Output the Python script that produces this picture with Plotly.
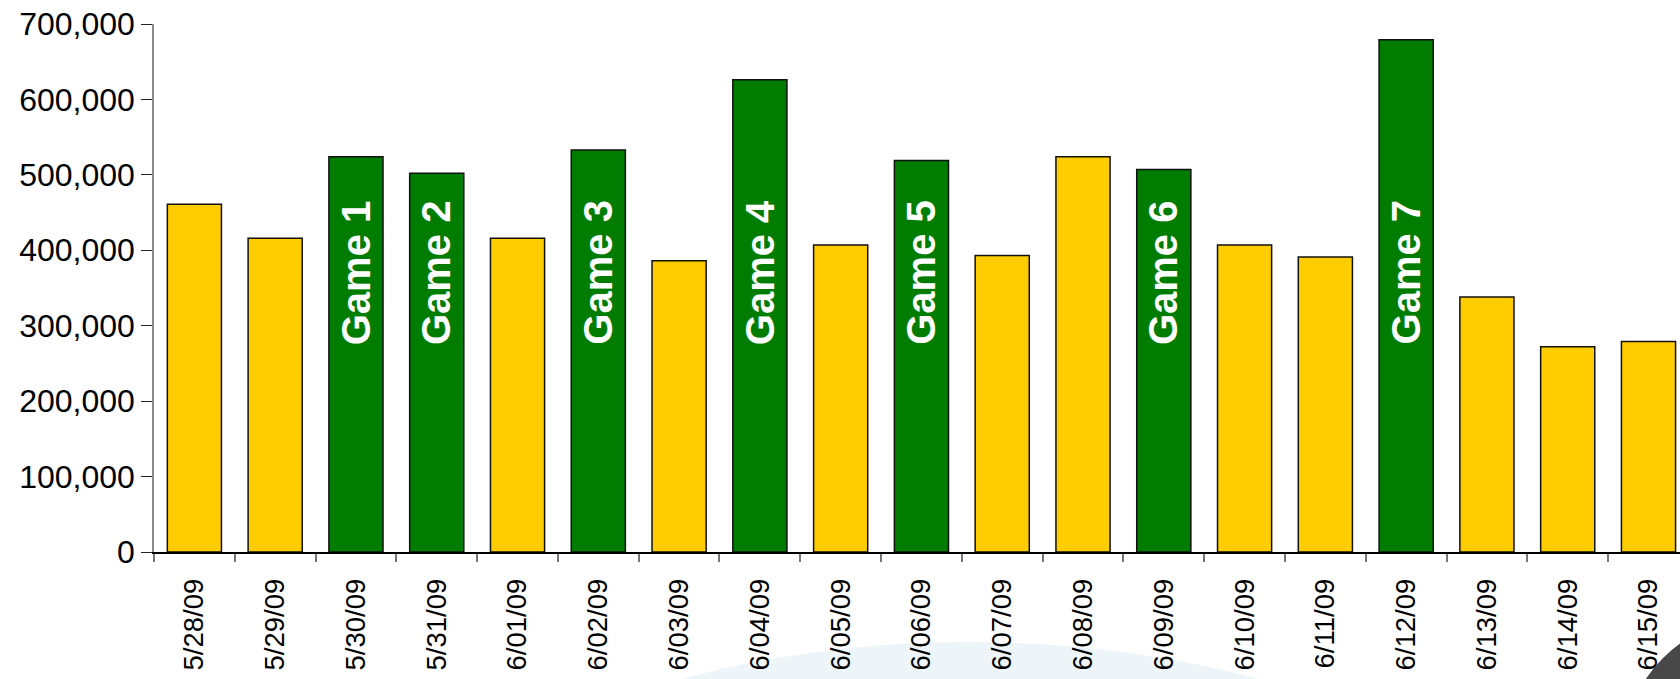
import plotly.graph_objects as go

dates = ["5/28/09", "5/29/09", "5/30/09", "5/31/09", "6/01/09", "6/02/09", "6/03/09",
         "6/04/09", "6/05/09", "6/06/09", "6/07/09", "6/08/09", "6/09/09", "6/10/09",
         "6/11/09", "6/12/09", "6/13/09", "6/14/09", "6/15/09"]
values = [461000, 416000, 524000, 502000, 416000, 533000, 386000,
          626000, 407000, 519000, 393000, 524000, 507000, 407000,
          391000, 679000, 338000, 272000, 279000]
game_dates = ["5/30/09", "5/31/09", "6/02/09", "6/04/09", "6/06/09", "6/09/09", "6/12/09"]
game_labels = ["Game 1", "Game 2", "Game 3", "Game 4", "Game 5", "Game 6", "Game 7"]
y_ticks = [0, 100000, 200000, 300000, 400000, 500000, 600000, 700000]

YELLOW = "#FFCC00"
GREEN = "#007D00"
colors = [GREEN if d in game_dates else YELLOW for d in dates]

W, H = 1680, 679
L, T, B = 154, 24, 127

fig = go.Figure()
fig.add_trace(go.Bar(
    x=dates, y=values,
    marker=dict(color=colors, line=dict(color="#111111", width=1.5)),
    hoverinfo="x+y",
))

for d, lab in zip(game_dates, game_labels):
    fig.add_annotation(
        x=d, y=272000, xref="x", yref="y",
        text="<b>" + lab + "</b>", textangle=-90,
        showarrow=False, xanchor="center", yanchor="bottom",
        font=dict(family="Liberation Sans, Arial, sans-serif", size=40, color="white"),
    )

# background decorations (paper coords)
pw = W - L
ph = H - T - B
def px(x):
    return (x - L) / pw
def py(y):
    return (H - B - y) / ph

fig.add_shape(type="circle", xref="paper", yref="paper",
              x0=px(300), x1=px(1640), y0=py(1400), y1=py(642),
              fillcolor="#EEF5F8", line=dict(width=0), layer="below")
fig.add_shape(type="circle", xref="paper", yref="paper",
              x0=px(1622), x1=px(1902), y0=py(897), y1=py(617),
              fillcolor="#484848", line=dict(width=0), layer="above")

fig.update_layout(
    width=W, height=H,
    margin=dict(l=L, r=0, t=T, b=B, pad=0),
    paper_bgcolor="white", plot_bgcolor="rgba(0,0,0,0)",
    bargap=0.33, showlegend=False,
    font=dict(family="Liberation Sans, Arial, sans-serif", color="black"),
    xaxis=dict(
        type="category", range=[-0.5, 18.39],
        showline=True, linecolor="black", linewidth=1.5,
        ticks="outside", ticklen=8, tickcolor="#777777", tickwidth=1.5,
        tickson="boundaries", tickangle=-90, ticklabelstandoff=14,
        tickfont=dict(size=27.5, color="black"),
        showgrid=False, zeroline=False,
    ),
    yaxis=dict(
        range=[0, 700000], tickvals=y_ticks,
        tickformat=",d",
        showline=True, linecolor="#888888", linewidth=1.5,
        ticks="outside", ticklen=11, tickcolor="#222222", tickwidth=1.2,
        tickfont=dict(size=32, color="black"),
        showgrid=False, zeroline=False,
    ),
)

fig.write_html(
    "out.html",
    config={"displayModeBar": False},
    post_script="document.body.style.margin='0';document.body.style.overflow='hidden';",
)
